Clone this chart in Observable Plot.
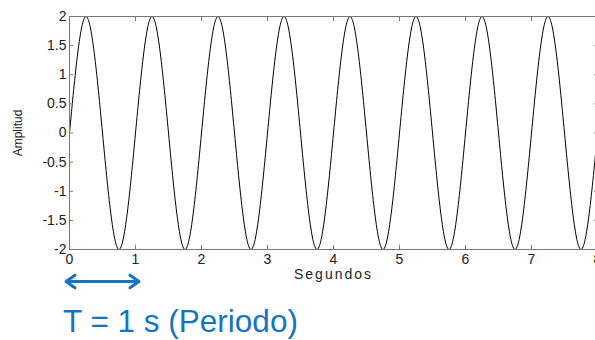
<!DOCTYPE html>
<html>
<head>
<meta charset="utf-8">
<script src="https://cdn.jsdelivr.net/npm/d3@7"></script>
<script src="https://cdn.jsdelivr.net/npm/@observablehq/plot@0.6"></script>
<style>
  html, body { margin: 0; padding: 0; background: #fff; overflow: hidden; width: 595px; height: 340px; }
  #chart { width: 598px; }
  #chart svg { display: block; }
  .caption {
    font-family: "Liberation Sans", Arial, sans-serif;
    font-size: 31.5px;
    line-height: 30px;
    color: #1574c0;
    margin: 6px 0 0 63px;
    white-space: nowrap;
  }
</style>
</head>
<body>
<div id="chart"></div>
<div class="caption" id="caption"></div>
<script>
// Signal samples: zero crossings, crests and troughs of the wave (seconds, amplitude)
const crossTimes = [0, 0.5, 1, 1.5, 2, 2.5, 3, 3.5, 4, 4.5, 5, 5.5, 6, 6.5, 7, 7.5, 8];
const crossValue = 0;
const peakTimes = [0.25, 1.25, 2.25, 3.25, 4.25, 5.25, 6.25, 7.25];
const peakValue = 2;
const troughTimes = [0.75, 1.75, 2.75, 3.75, 4.75, 5.75, 6.75, 7.75];
const troughValue = -2;

// Axis ticks
const xTicks = [0, 1, 2, 3, 4, 5, 6, 7, 8];
const yTicks = [-2, -1.5, -1, -0.5, 0, 0.5, 1, 1.5, 2];

// Period marker
const period = 1;

const points = [
  ...crossTimes.map(t => ({t, v: crossValue})),
  ...peakTimes.map(t => ({t, v: peakValue})),
  ...troughTimes.map(t => ({t, v: troughValue}))
].sort((a, b) => a.t - b.t);

const yMin = d3.min(yTicks);
const blue = "#1574c0";
const font = "'Liberation Sans', Arial, sans-serif";

const chart = Plot.plot({
  width: 598,
  height: 300,
  marginLeft: 69,
  marginRight: 1,
  marginTop: 16,
  marginBottom: 51,
  style: {fontFamily: font, fontSize: "14px", color: "#222", background: "#fff", maxWidth: "none", overflow: "visible"},
  x: {domain: [0, 8]},
  y: {domain: [-2, 2]},
  marks: [
    Plot.line(points, {x: "t", y: "v", curve: "natural", stroke: "#000", strokeWidth: 1}),
    Plot.frame({stroke: "#777", strokeWidth: 1}),
    Plot.axisX(xTicks, {anchor: "bottom", tickSize: -4, tickPadding: 9, tickFormat: d => String(d), label: null, stroke: "#777"}),
    Plot.axisX(xTicks, {anchor: "top", tickSize: -4, tickFormat: () => "", label: null, stroke: "#777"}),
    Plot.axisY(yTicks, {anchor: "left", tickSize: -4, tickPadding: 7, tickFormat: d => String(d), label: null, stroke: "#777"}),
    Plot.axisY(yTicks, {anchor: "right", tickSize: -4, tickFormat: () => "", label: null, stroke: "#777"}),
    Plot.text(["Segundos"], {frameAnchor: "bottom", lineAnchor: "middle", textAnchor: "middle", dy: 25, fontSize: 14, fill: "#222"}),
    Plot.text(["Amplitud"], {frameAnchor: "left", lineAnchor: "middle", textAnchor: "middle", dx: -51, rotate: -90, fontSize: 12, fill: "#222"}),
    // double-headed arrow spanning one period
    Plot.arrow([{a: period / 2, b: 0}, {a: period / 2, b: period}], {
      x1: "a", x2: "b", y1: () => yMin, y2: () => yMin, dy: 32,
      stroke: blue, strokeWidth: 3, headLength: 6, headAngle: 70, insetEnd: -3.5
    })
  ]
});

d3.select(chart).selectAll("text")
  .filter(function () { return this.textContent === "Segundos"; })
  .style("letter-spacing", "2px");

document.getElementById("chart").appendChild(chart);
document.getElementById("caption").textContent = `T = ${period} s (Periodo)`;
</script>
</body>
</html>
